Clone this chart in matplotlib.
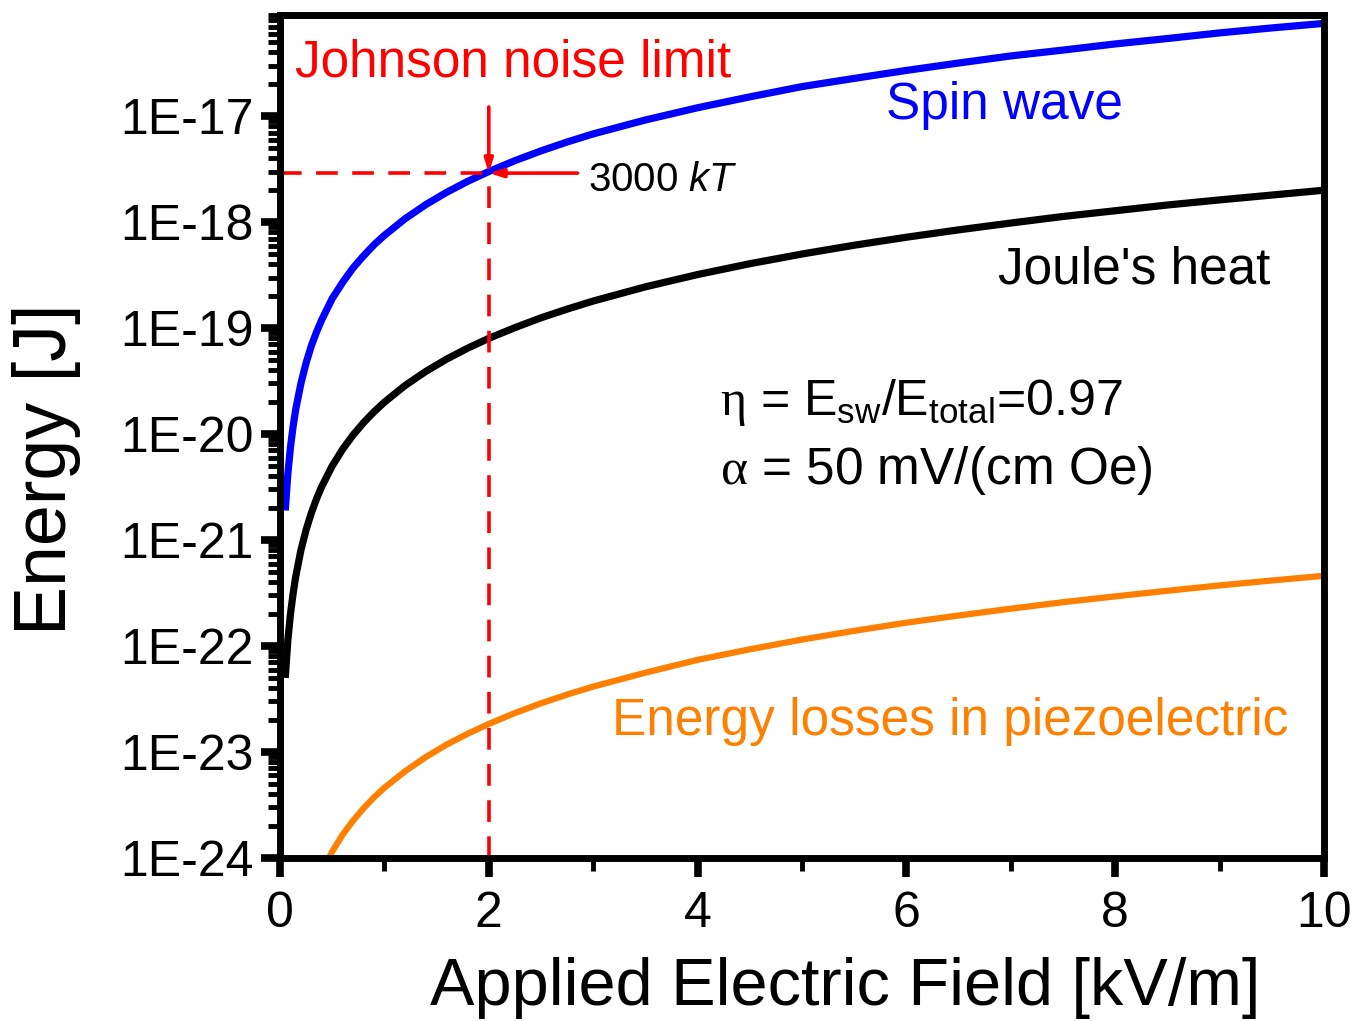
import numpy as np
import matplotlib
matplotlib.use('Agg')
import matplotlib.pyplot as plt
from matplotlib.ticker import MultipleLocator, LogLocator, NullFormatter

plt.rcParams['font.family'] = ['Liberation Sans', 'DejaVu Sans']
plt.rcParams['mathtext.fontset'] = 'custom'
plt.rcParams['mathtext.rm'] = 'Liberation Sans'
plt.rcParams['mathtext.it'] = 'Liberation Sans:italic'
plt.rcParams['mathtext.sf'] = 'Liberation Serif'

# данные
field = [0.05, 0.075, 0.1, 0.125, 0.15, 0.2, 0.25, 0.3, 0.35, 0.4, 0.5, 0.6, 0.7, 0.8,
         0.9, 1.0, 1.2, 1.4, 1.6, 1.8, 2.0, 2.25, 2.5, 2.75, 3, 3.5, 4, 4.5, 5, 5.5, 6,
         6.5, 7, 7.5, 8, 8.5, 9, 9.5, 10]
spin_wave = [1.9e-21, 4.2e-21, 7.5e-21, 1.17e-20, 1.7e-20, 3.0e-20, 4.7e-20, 6.8e-20,
             9.2e-20, 1.2e-19, 1.9e-19, 2.7e-19, 3.7e-19, 4.8e-19, 6.1e-19, 7.5e-19,
             1.08e-18, 1.47e-18, 1.92e-18, 2.43e-18, 3.0e-18, 3.8e-18, 4.7e-18, 5.7e-18,
             6.8e-18, 9.2e-18, 1.2e-17, 1.52e-17, 1.9e-17, 2.27e-17, 2.7e-17, 3.17e-17,
             3.7e-17, 4.2e-17, 4.8e-17, 5.4e-17, 6.1e-17, 6.8e-17, 7.5e-17]
joule = [5e-23, 1.13e-22, 2e-22, 3.1e-22, 4.5e-22, 8e-22, 1.25e-21, 1.8e-21, 2.45e-21,
         3.2e-21, 5e-21, 7.2e-21, 9.8e-21, 1.28e-20, 1.62e-20, 2e-20, 2.88e-20, 3.92e-20,
         5.12e-20, 6.48e-20, 8e-20, 1.01e-19, 1.25e-19, 1.51e-19, 1.8e-19, 2.45e-19,
         3.2e-19, 4.05e-19, 5e-19, 6.05e-19, 7.2e-19, 8.45e-19, 9.8e-19, 1.13e-18,
         1.28e-18, 1.45e-18, 1.62e-18, 1.8e-18, 2e-18]
field_piezo = [0.4, 0.5, 0.6, 0.7, 0.8, 0.9, 1.0, 1.2, 1.4, 1.6, 1.8, 2.0, 2.25, 2.5,
               2.75, 3, 3.5, 4, 4.5, 5, 5.5, 6, 6.5, 7, 7.5, 8, 8.5, 9, 9.5, 10]
piezo = [7.4e-25, 1.15e-24, 1.66e-24, 2.25e-24, 2.94e-24, 3.73e-24, 4.6e-24, 6.6e-24,
         9.0e-24, 1.18e-23, 1.49e-23, 1.84e-23, 2.33e-23, 2.88e-23, 3.48e-23, 4.14e-23,
         5.6e-23, 7.4e-23, 9.3e-23, 1.15e-22, 1.39e-22, 1.66e-22, 1.94e-22, 2.25e-22,
         2.59e-22, 2.94e-22, 3.32e-22, 3.73e-22, 4.15e-22, 4.6e-22]

y_ticks = [1e-24, 1e-23, 1e-22, 1e-21, 1e-20, 1e-19, 1e-18, 1e-17]
y_labels = ['1E-24', '1E-23', '1E-22', '1E-21', '1E-20', '1E-19', '1E-18', '1E-17']
x_ticks = [0, 2, 4, 6, 8, 10]

limit_field = 2.0
limit_energy = 2.9e-18

fig = plt.figure(figsize=(13.56, 10.21), dpi=100)
ax = fig.add_axes([0.2065, 0.1597, 0.7699, 0.8256])

ax.plot(field, spin_wave, color='#0000ff', lw=5.2, solid_capstyle='butt')
ax.plot(field, joule, color='black', lw=5.2, solid_capstyle='butt')
ax.plot(field_piezo, piezo, color='#ff8000', lw=4.5, solid_capstyle='butt')

# линии предела Джонсона
ax.plot([0, limit_field], [limit_energy, limit_energy], color='red', lw=2.6, dashes=(6, 4))
ax.plot([limit_field, limit_field], [1e-24, limit_energy], color='red', lw=2.6, dashes=(6, 4))
ax.annotate('', xy=(limit_field, limit_energy), xytext=(limit_field, 1.22e-17),
            arrowprops=dict(arrowstyle='-|>,head_length=0.8,head_width=0.25', color='red', lw=2.6,
                            shrinkA=0, shrinkB=0))
ax.annotate('', xy=(limit_field, limit_energy), xytext=(2.85, limit_energy),
            arrowprops=dict(arrowstyle='-|>,head_length=0.8,head_width=0.25', color='red', lw=2.6,
                            shrinkA=0, shrinkB=0))

ax.set_yscale('log')
ax.set_xlim(0, 10)
ax.set_ylim(1e-24, 9e-17)

ax.set_yticks(y_ticks, y_labels)
ax.yaxis.set_minor_locator(LogLocator(base=10, subs=np.arange(2, 10)))
ax.yaxis.set_minor_formatter(NullFormatter())
ax.set_xticks(x_ticks)
ax.xaxis.set_minor_locator(MultipleLocator(1))

for sp in ax.spines.values():
    sp.set_linewidth(5)
ax.tick_params(which='major', direction='out', length=14, width=5.5, labelsize=36, pad=5)
ax.tick_params(which='minor', direction='out', length=9, width=3.5)
ax.tick_params(axis='x', which='major', pad=10)

ax.set_xlabel('Applied Electric Field [kV/m]', fontsize=48, labelpad=14, x=0.541)
ax.set_ylabel('Energy [J]', fontsize=53, labelpad=28, y=0.461)

ax.text(0.14, 3.2e-17, 'Johnson noise limit', color='red', fontsize=37, ha='left', va='center')
ax.text(2.95, 2.5e-18, r'3000 $kT$', color='black', fontsize=29, ha='left', va='center')
ax.text(5.8, 1.27e-17, 'Spin wave', color='#0000ff', fontsize=37, ha='left', va='center')
ax.text(6.88, 3.5e-19, "Joule's heat", color='black', fontsize=37, ha='left', va='center')
ax.text(3.18, 1.92e-23, 'Energy losses in piezoelectric', color='#ff8000', fontsize=37,
        ha='left', va='center')
ax.text(4.21, 1.51e-20, r'$\mathsf{\eta}$ = E$_{\rm sw}$/E$_{\rm total}$=0.97', fontsize=36,
        ha='left', va='baseline')
ax.text(4.21, 3.37e-21, r'$\mathsf{\alpha}$ = 50 mV/(cm Oe)', fontsize=37,
        ha='left', va='baseline')

fig.savefig('out.png', dpi=100)
